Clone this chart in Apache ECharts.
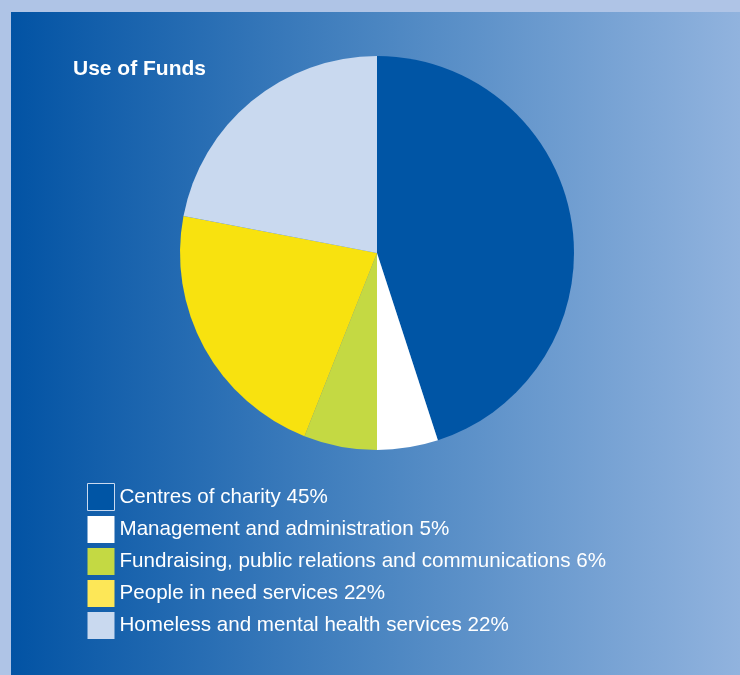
<!DOCTYPE html>
<html>
<head>
<meta charset="utf-8">
<title>Use of Funds</title>
<script src="https://cdn.jsdelivr.net/npm/echarts@6/dist/echarts.min.js"></script>
<style>
  html, body { margin: 0; padding: 0; background: #afc4e6; }
  #chart { width: 740px; height: 675px; }
</style>
</head>
<body>
<div id="chart"></div>
<script>
// data
var categories = [
    "Centres of charity",
    "Management and administration",
    "Fundraising, public relations and communications",
    "People in need services",
    "Homeless and mental health services"
];
var values = [45, 5, 6, 22, 22];
var sliceColors = ["#0055a5", "#ffffff", "#c4d943", "#f8e20f", "#c9d9ef"];
var legendColors = ["#0055a5", "#ffffff", "#c4d943", "#fde757", "#c9d9ef"];

var myChart = echarts.init(document.getElementById('chart'));

var pieData = [];
var legendData = [];
for (var i = 0; i < categories.length; i++) {
    pieData.push({
        name: categories[i],
        value: values[i],
        itemStyle: { color: sliceColors[i] }
    });
    var ls = { color: legendColors[i], borderWidth: 0 };
    if (i == 0) {
        ls.borderColor = "#c9d9ef";
        ls.borderWidth = 1;
    }
    legendData.push({ name: categories[i], itemStyle: ls });
}

myChart.setOption({
    backgroundColor: '#afc4e6',
    animation: false,
    graphic: [{
        type: 'rect',
        z: -10,
        shape: { x: 11, y: 12, width: 729, height: 663 },
        style: {
            fill: new echarts.graphic.LinearGradient(0, 0, 1, 0, [
                { offset: 0, color: '#0253a4' },
                { offset: 0.5, color: '#4a85c1' },
                { offset: 1, color: '#91b3de' }
            ])
        }
    }],
    title: {
        text: 'Use of Funds',
        left: 68,
        top: 54,
        textStyle: {
            color: '#ffffff',
            fontSize: 21,
            fontWeight: 'bold',
            fontFamily: 'Liberation Sans'
        }
    },
    legend: {
        orient: 'vertical',
        left: 87,
        top: 483,
        padding: 0,
        icon: 'rect',
        itemWidth: 27,
        itemHeight: 27,
        itemGap: 5,
        selectedMode: false,
        data: legendData,
        formatter: function (name) {
            return name + ' ' + values[categories.indexOf(name)] + '%';
        },
        textStyle: {
            color: '#ffffff',
            fontSize: 20.6,
            lineHeight: 27,
            fontFamily: 'Liberation Sans'
        }
    },
    series: [{
        type: 'pie',
        center: [377, 253],
        radius: 197,
        startAngle: 90,
        clockwise: true,
        label: { show: false },
        labelLine: { show: false },
        emphasis: { disabled: true },
        itemStyle: { borderWidth: 0 },
        data: pieData
    }]
});
</script>
</body>
</html>
